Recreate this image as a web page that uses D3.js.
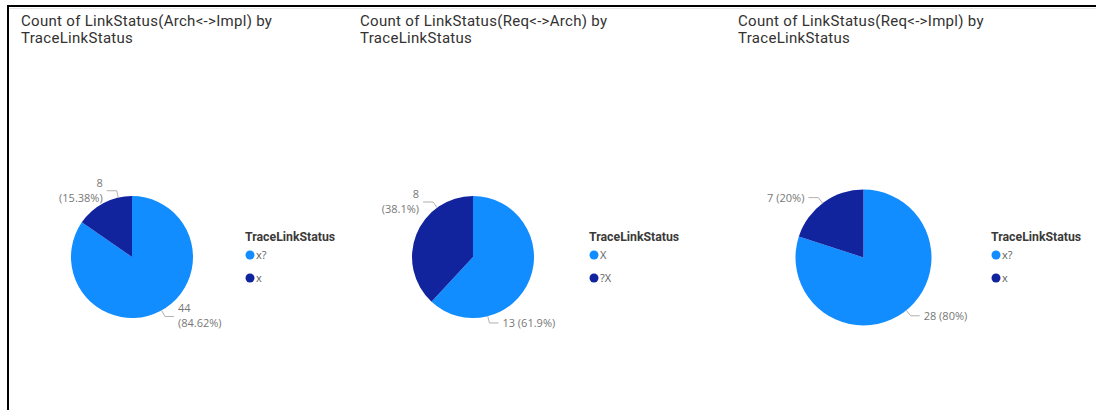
<!DOCTYPE html>
<html>
<head>
<meta charset="utf-8">
<script src="https://cdn.jsdelivr.net/npm/d3@7"></script>
<style>
  html, body { margin: 0; padding: 0; background: #fff; }
  svg { display: block; }
</style>
</head>
<body>
<svg id="chart" width="1096" height="410"></svg>
<script>
// ---- data ----
const titles = [
  ["Count of LinkStatus(Arch<->Impl) by", "TraceLinkStatus"],
  ["Count of LinkStatus(Req<->Arch) by", "TraceLinkStatus"],
  ["Count of LinkStatus(Req<->Impl) by", "TraceLinkStatus"]
];
const legendTitle = "TraceLinkStatus";
const categoriesArchImpl = ["x?", "x"];
const valuesArchImpl = [44, 8];
const categoriesReqArch = ["X", "?X"];
const valuesReqArch = [13, 8];
const categoriesReqImpl = ["x?", "x"];
const valuesReqImpl = [28, 7];
const sliceColors = ["#118DFF", "#12239E"];

// ---- layout of the three panels ----
// leaderDeg: angle (clockwise from 12 o'clock) where each label's leader leaves the rim
// wrap: whether the label breaks into value / percentage lines
const panels = [
  { cats: categoriesArchImpl, vals: valuesArchImpl, titleX: 21, cx: 132, cy: 257, r: 61,
    legendX: 245, leaderDeg: [151, 347], wrap: [true, true] },
  { cats: categoriesReqArch, vals: valuesReqArch, titleX: 360, cx: 473, cy: 257, r: 61,
    legendX: 589, leaderDeg: [166, 324], wrap: [false, true] },
  { cats: categoriesReqImpl, vals: valuesReqImpl, titleX: 738, cx: 863.5, cy: 257.5, r: 68,
    legendX: 991, leaderDeg: [141, 323], wrap: [false, false] }
];

const svg = d3.select("#chart");

// frame lines along the top and left
svg.append("line").attr("x1", 7).attr("x2", 1096).attr("y1", 6).attr("y2", 6)
  .attr("stroke", "#000").attr("stroke-width", 2);
svg.append("line").attr("x1", 8).attr("x2", 8).attr("y1", 5).attr("y2", 410)
  .attr("stroke", "#000").attr("stroke-width", 2);
svg.append("line").attr("x1", 9).attr("x2", 1096).attr("y1", 8.5).attr("y2", 8.5)
  .attr("stroke", "#e6e6e6").attr("stroke-width", 1);

const fmtPct = p => (+(p * 100).toFixed(2)) + "%";

panels.forEach((p, i) => {
  // title
  const t = svg.append("text")
    .attr("x", p.titleX).attr("y", 26)
    .attr("font-family", "Roboto, 'Noto Sans', sans-serif")
    .attr("font-size", 15).attr("letter-spacing", 0.3).attr("fill", "#333231");
  titles[i].forEach((line, k) => {
    t.append("tspan").attr("x", p.titleX).attr("dy", k === 0 ? 0 : 17).text(line);
  });

  // pie
  const color = d3.scaleOrdinal().domain(p.cats).range(sliceColors);
  const pie = d3.pie().sort(null).value(d => d.v);
  const data = p.cats.map((c, k) => ({ c, v: p.vals[k] }));
  const arcs = pie(data);
  const total = d3.sum(p.vals);
  const arc = d3.arc().innerRadius(0).outerRadius(p.r);

  const g = svg.append("g").attr("transform", `translate(${p.cx},${p.cy})`);
  g.selectAll("path").data(arcs).join("path")
    .attr("d", arc)
    .attr("fill", d => color(d.data.c));

  // data labels with leader lines
  arcs.forEach((a, k) => {
    const ang = p.leaderDeg[k] * Math.PI / 180;
    const sx = p.r * Math.sin(ang), sy = -p.r * Math.cos(ang);
    const ex = (p.r + 7) * Math.sin(ang), ey = -(p.r + 7) * Math.cos(ang);
    const right = Math.sin(ang) >= 0;
    const hx = ex + (right ? 9 : -10);
    g.append("polyline")
      .attr("points", [[sx, sy], [ex, ey], [hx, ey]].map(q => q.join(",")).join(" "))
      .attr("fill", "none").attr("stroke", "#b3b0ad").attr("stroke-width", 1);

    const valTxt = String(a.data.v);
    const pctTxt = "(" + fmtPct(a.data.v / total) + ")";
    const tx = hx + (right ? 4 : -4);
    const lbl = g.append("text")
      .attr("x", tx)
      .attr("text-anchor", right ? "start" : "end")
      .attr("font-family", "'Open Sans', 'Noto Sans', sans-serif")
      .attr("font-size", 11).attr("fill", "#777");
    if (p.wrap[k]) {
      lbl.attr("y", ey - 4);
      lbl.append("tspan").attr("x", tx).text(valTxt);
      lbl.append("tspan").attr("x", tx).attr("dy", 15).text(pctTxt);
    } else {
      lbl.attr("y", ey + 4).text(valTxt + " " + pctTxt);
    }
  });

  // legend
  const lg = svg.append("g").attr("transform", `translate(${p.legendX},0)`);
  lg.append("text").attr("x", 0).attr("y", 241)
    .attr("font-family", "Roboto, 'Noto Sans', sans-serif")
    .attr("font-size", 12.3).attr("font-weight", "bold").attr("fill", "#3b3a39")
    .text(legendTitle);
  const items = lg.selectAll("g.item").data(p.cats).join("g")
    .attr("class", "item")
    .attr("transform", (d, k) => `translate(0,${255 + k * 23})`);
  items.append("circle").attr("cx", 5).attr("cy", 0).attr("r", 4.5)
    .attr("fill", d => color(d));
  items.append("text").attr("x", 11).attr("y", 4)
    .attr("font-family", "'Open Sans', 'Noto Sans', sans-serif")
    .attr("font-size", 11).attr("fill", "#605e5c")
    .text(d => d);
});
</script>
</body>
</html>
